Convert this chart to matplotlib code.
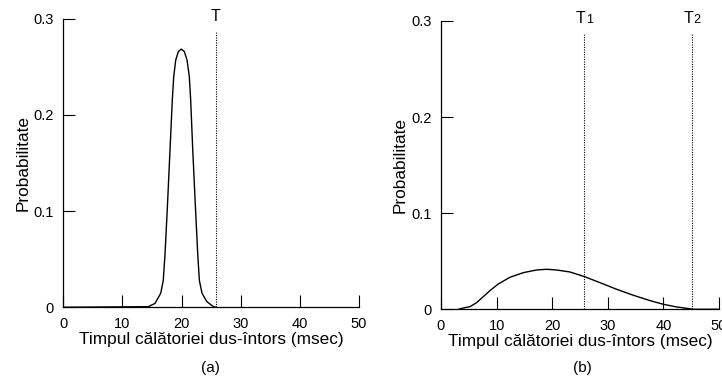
import matplotlib
matplotlib.use("Agg")
import matplotlib.pyplot as plt

plt.rcParams['font.family'] = ['Liberation Sans', 'DejaVu Sans']

# curba (a): distributie ingusta
t_a = [0, 14.37, 15.5, 16.47, 16.9, 17.2, 17.6, 18.04, 18.43, 18.67, 19.0, 19.45, 19.95,
       20.46, 20.92, 21.3, 21.53, 21.88, 22.33, 22.72, 23.0, 23.45, 24.25, 25.36, 25.8]
p_a = [0, 0.0006, 0.004, 0.0146, 0.028, 0.056, 0.105, 0.164, 0.216, 0.240, 0.257, 0.266, 0.2685,
       0.266, 0.257, 0.240, 0.216, 0.164, 0.105, 0.056, 0.028, 0.0146, 0.006, 0.0006, 0]

# curba (b): distributie larga
t_b = [3.2, 3.72, 5.2, 6.4, 7.6, 8.8, 10.3, 12.4, 14.8, 17.2, 19.0, 20.8, 23.2, 25.8,
       28.6, 31.6, 34.6, 37.6, 40.0, 42.4, 44.2, 45.4, 50]
p_b = [0, 0.001, 0.0027, 0.0069, 0.0131, 0.0194, 0.0263, 0.0333, 0.0381, 0.0409, 0.0416, 0.0409,
       0.0388, 0.0340, 0.0277, 0.0208, 0.0146, 0.0090, 0.0052, 0.0024, 0.001, 0, 0]

T_a = [25.8]
T_b = [25.8, 45.2]
T_names_a = [("T", "")]
T_names_b = [("T", "1"), ("T", "2")]

xticks = [0, 10, 20, 30, 40, 50]
yticks = [0, 0.1, 0.2, 0.3]
ytick_labels = ["0", "0.1", "0.2", "0.3"]

xlabel = "Timpul călătoriei dus-întors (msec)"
ylabel = "Probabilitate"

fig = plt.figure(figsize=(7.22, 3.77), dpi=100)
ax_a = fig.add_axes([0.0877, 0.185, 0.4096, 0.765])
ax_b = fig.add_axes([0.6108, 0.1796, 0.385, 0.765])


def style(ax, t, p, lines, names):
    ax.plot(t, p, color="black", lw=1.0, solid_joinstyle="round")
    for xv, (main, sub) in zip(lines, names):
        ax.plot([xv, xv], [0, 0.287], color="black", lw=0.8, linestyle=(0, (1, 1.2)))
        if sub:
            ax.annotate(main, xy=(xv, 0.302), xytext=(-2.5, 0), textcoords="offset points",
                        ha="center", va="center", fontsize=11.5, annotation_clip=False)
            ax.annotate(sub, xy=(xv, 0.302), xytext=(3.4, -0.8), textcoords="offset points",
                        ha="center", va="center", fontsize=9, annotation_clip=False)
        else:
            ax.annotate(main, xy=(xv, 0.302), ha="center", va="center",
                        fontsize=11.5, annotation_clip=False)
    ax.set_xlim(0, 50)
    ax.set_ylim(0, 0.3)
    ax.set_xticks(xticks)
    ax.set_yticks(yticks)
    ax.set_yticklabels(ytick_labels)
    ax.tick_params(direction="in", length=8.6, width=0.8, pad=7, labelsize=10.5)
    ax.spines["top"].set_visible(False)
    ax.spines["right"].set_visible(False)
    ax.spines["left"].set_linewidth(0.9)
    ax.spines["bottom"].set_linewidth(0.9)
    ax.set_xlabel(xlabel, fontsize=12.4, labelpad=1)
    ax.set_ylabel(ylabel, fontsize=12.4, labelpad=2)


style(ax_a, t_a, p_a, T_a, T_names_a)
style(ax_b, t_b, p_b, T_b, T_names_b)

fig.text(0.291, 0.024, "(a)", ha="center", va="center", fontsize=11)
fig.text(0.807, 0.024, "(b)", ha="center", va="center", fontsize=11)

fig.savefig("out.png", dpi=100)
